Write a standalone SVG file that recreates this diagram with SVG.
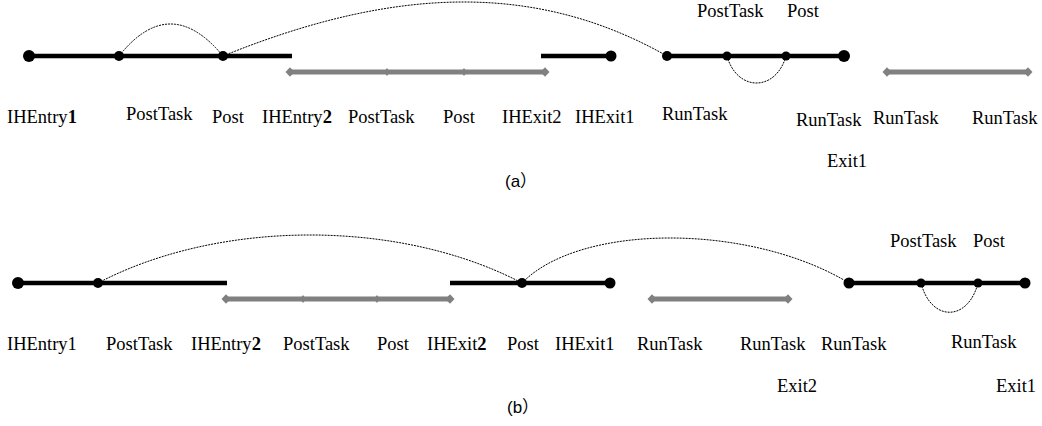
<svg xmlns="http://www.w3.org/2000/svg" width="1042" height="426" viewBox="0 0 1042 426">
<style>
.bl{stroke:#000;stroke-width:4.5;fill:none}
.gl{stroke:#808080;stroke-width:5;fill:none}
.dt{stroke:#000;stroke-width:1;stroke-dasharray:2 1;fill:none}
.lb{font-family:"Liberation Serif","Times New Roman",serif;font-size:18.5px;fill:#000}
.cap{font-family:"Liberation Sans","Noto Sans CJK SC",sans-serif;font-size:17px;fill:#000}
.b{font-weight:bold}
</style>
<defs>
<path id="dE" d="M-4.5 0 L0 -4.8 L4.5 0 L0 4.8 Z" fill="#808080"/>
<path id="dM" d="M-3 0 L0 -4 L3 0 L0 4 Z" fill="#808080"/>
</defs>
<g id="connectors">
<path class="dt" d="M119 56 Q170 -8 223 56"/>
<path class="dt" d="M223 56 C400 -16 540 -16 667 56"/>
<path class="dt" d="M727 56 C737 92 776 92 786 56"/>
<path class="dt" d="M98 283 C220 219 400 219 522 283"/>
<path class="dt" d="M522 283 C580 223 750 223 849 283"/>
<path class="dt" d="M921 283 C931 322 968 322 978 283"/>
</g>
<g id="a-seg1">
<line class="bl" x1="29" y1="56" x2="292" y2="56"/>
<circle cx="29" cy="56" r="6"/><circle cx="119" cy="56" r="5"/><circle cx="223" cy="56" r="5"/>
</g>
<g id="a-gray1">
<line class="gl" x1="290" y1="72" x2="545" y2="72"/>
<use href="#dE" x="290" y="72"/><use href="#dE" x="545" y="72"/>
<use href="#dM" x="387" y="72"/><use href="#dM" x="464" y="72"/>
</g>
<g id="a-seg2">
<line class="bl" x1="541" y1="56" x2="611" y2="56"/>
<circle cx="611" cy="56" r="5.5"/>
</g>
<g id="a-seg3">
<line class="bl" x1="667" y1="56" x2="844" y2="56"/>
<circle cx="667" cy="56" r="5"/><circle cx="727" cy="56" r="4.5"/><circle cx="786" cy="56" r="4.5"/><circle cx="844" cy="56" r="6"/>
</g>
<g id="a-gray2">
<line class="gl" x1="887" y1="72" x2="1028" y2="72"/>
<use href="#dE" x="887" y="72"/><use href="#dE" x="1028" y="72"/>
</g>
<g id="a-labels">
<text class="lb" x="7" y="123">IHEntry<tspan class="b">1</tspan></text>
<text class="lb" x="126" y="120">PostTask</text>
<text class="lb" x="212" y="123">Post</text>
<text class="lb" x="262" y="123">IHEntry<tspan class="b">2</tspan></text>
<text class="lb" x="348" y="123">PostTask</text>
<text class="lb" x="443" y="123">Post</text>
<text class="lb" x="502" y="123">IHExit2</text>
<text class="lb" x="575" y="123">IHExit1</text>
<text class="lb" x="662" y="120">RunTask</text>
<text class="lb" x="796" y="126">RunTask</text>
<text class="lb" x="873" y="124">RunTask</text>
<text class="lb" x="972" y="124">RunTask</text>
<text class="lb" x="827" y="167">Exit1</text>
<text class="lb" x="697" y="17">PostTask</text>
<text class="lb" x="787" y="17">Post</text>
<text class="cap" x="505" y="187">(a）</text>
</g>
<g id="b-seg1">
<line class="bl" x1="18" y1="283" x2="227" y2="283"/>
<circle cx="18" cy="283" r="6"/><circle cx="98" cy="283" r="5"/>
</g>
<g id="b-gray1">
<line class="gl" x1="226" y1="299" x2="450" y2="299"/>
<use href="#dE" x="226" y="299"/><use href="#dE" x="450" y="299"/>
<use href="#dM" x="303" y="299"/><use href="#dM" x="377" y="299"/>
</g>
<g id="b-seg2">
<line class="bl" x1="450" y1="283" x2="610" y2="283"/>
<circle cx="522" cy="283" r="5"/><circle cx="610" cy="283" r="5.5"/>
</g>
<g id="b-gray2">
<line class="gl" x1="652" y1="299" x2="788" y2="299"/>
<use href="#dE" x="652" y="299"/><use href="#dE" x="788" y="299"/>
</g>
<g id="b-seg3">
<line class="bl" x1="849" y1="283" x2="1025" y2="283"/>
<circle cx="849" cy="283" r="5.5"/><circle cx="921" cy="283" r="4.5"/><circle cx="978" cy="283" r="4.5"/><circle cx="1025" cy="283" r="5.5"/>
</g>
<g id="b-labels">
<text class="lb" x="7" y="350">IHEntry1</text>
<text class="lb" x="106" y="350">PostTask</text>
<text class="lb" x="191" y="350">IHEntry<tspan class="b">2</tspan></text>
<text class="lb" x="283" y="350">PostTask</text>
<text class="lb" x="377" y="350">Post</text>
<text class="lb" x="427" y="350">IHExit<tspan class="b">2</tspan></text>
<text class="lb" x="507" y="350">Post</text>
<text class="lb" x="555" y="350">IHExit1</text>
<text class="lb" x="637" y="350">RunTask</text>
<text class="lb" x="740" y="350">RunTask</text>
<text class="lb" x="821" y="350">RunTask</text>
<text class="lb" x="951" y="348">RunTask</text>
<text class="lb" x="777" y="392">Exit2</text>
<text class="lb" x="996" y="392">Exit1</text>
<text class="lb" x="890" y="247">PostTask</text>
<text class="lb" x="973" y="247">Post</text>
<text class="cap" x="507" y="413">(b）</text>
</g>
</svg>
